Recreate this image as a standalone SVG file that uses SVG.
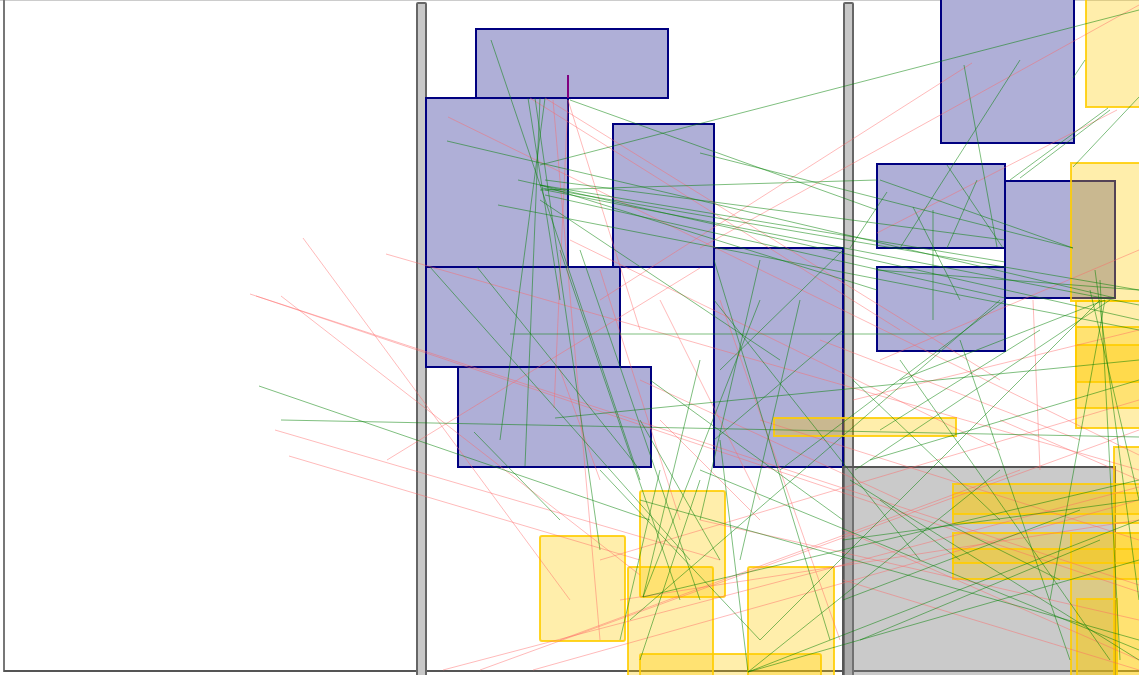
<svg xmlns="http://www.w3.org/2000/svg" width="1139" height="675" viewBox="0 0 1139 675">
<style>
.b{fill:#afafd7;stroke:#000080;stroke-width:2}
.y{fill:#ffcc00;fill-opacity:0.33;stroke:#ffcc00;stroke-width:2;stroke-opacity:0.85}
.bar{fill:#c8c8c8;stroke:#666;stroke-width:2}
.gb{fill:#808080;fill-opacity:0.42;stroke:#555;stroke-width:2}
.g{stroke:#008000;stroke-opacity:0.5;stroke-width:1;fill:none}
.p{stroke:#ff6666;stroke-opacity:0.45;stroke-width:1;fill:none}
</style>
<rect x="0" y="0" width="1139" height="675" fill="#fff"/>
<g id="frame">
<line x1="0" y1="0.5" x2="1139" y2="0.5" stroke="#ccc" stroke-width="1"/>
<line x1="4" y1="0" x2="4" y2="672" stroke="#777" stroke-width="2"/>
<line x1="4" y1="671" x2="1139" y2="671" stroke="#555" stroke-width="2"/>
</g>
<g id="bar1"><rect class="bar" x="417" y="3" width="9" height="680" rx="1"/></g>
<g id="bar2"><rect class="bar" x="844" y="3" width="9" height="680" rx="1"/></g>
<g id="n1"><rect class="b" x="476" y="29" width="192" height="69"/></g>
<g id="n2"><rect class="b" x="426" y="98" width="142" height="169"/></g>
<g id="n3"><rect class="b" x="613" y="124" width="101" height="143"/></g>
<g id="n4"><rect class="b" x="426" y="267" width="194" height="100"/></g>
<g id="n5"><rect class="b" x="458" y="367" width="193" height="100"/></g>
<g id="n6"><rect class="b" x="714" y="248" width="129" height="219"/></g>
<g id="n7"><rect class="b" x="941" y="-5" width="133" height="148"/></g>
<g id="n8"><rect class="b" x="877" y="164" width="128" height="84"/></g>
<g id="n9"><rect class="b" x="877" y="267" width="128" height="84"/></g>
<g id="n10"><rect class="b" x="1005" y="181" width="110" height="117"/></g>
<g id="gray"><rect class="gb" x="843" y="467" width="272" height="215"/></g>
<g id="yellow">
<rect class="y" x="1086" y="-5" width="60" height="112"/>
<rect class="y" x="1071" y="163" width="75" height="138"/>
<rect class="y" x="1076" y="301" width="70" height="127"/>
<rect class="y" x="1076" y="327" width="70" height="55"/>
<rect class="y" x="1076" y="345" width="70" height="63"/>
<rect class="y" x="774" y="418" width="182" height="18"/>
<rect class="y" x="1114" y="447" width="30" height="235"/>
<rect class="y" x="953" y="484" width="190" height="39"/>
<rect class="y" x="953" y="493" width="190" height="21"/>
<rect class="y" x="953" y="533" width="190" height="46"/>
<rect class="y" x="953" y="549" width="190" height="14"/>
<rect class="y" x="1071" y="533" width="70" height="150"/>
<rect class="y" x="1077" y="599" width="40" height="80"/>
<rect class="y" x="640" y="491" width="85" height="106" rx="2"/>
<rect class="y" x="540" y="536" width="85" height="105" rx="2"/>
<rect class="y" x="628" y="567" width="85" height="115" rx="2"/>
<rect class="y" x="748" y="567" width="86" height="115" rx="2"/>
<rect class="y" x="640" y="654" width="181" height="30" rx="2"/>
</g>
<g id="marker"><line x1="568" y1="75" x2="568" y2="98" stroke="#800080" stroke-width="2"/></g>
<g id="connectors">
<line class="p" x1="303" y1="238" x2="570" y2="600"/>
<line class="p" x1="250" y1="294" x2="1139" y2="585"/>
<line class="p" x1="256" y1="296" x2="1139" y2="592"/>
<line class="p" x1="281" y1="296" x2="640" y2="575"/>
<line class="p" x1="386" y1="254" x2="1139" y2="470"/>
<line class="p" x1="275" y1="430" x2="720" y2="560"/>
<line class="p" x1="289" y1="456" x2="640" y2="560"/>
<line class="p" x1="387" y1="460" x2="700" y2="268"/>
<line class="p" x1="448" y1="117" x2="1139" y2="455"/>
<line class="p" x1="530" y1="98" x2="900" y2="330"/>
<line class="p" x1="545" y1="98" x2="1000" y2="380"/>
<line class="p" x1="553" y1="100" x2="600" y2="640"/>
<line class="p" x1="568" y1="100" x2="640" y2="330"/>
<line class="p" x1="443" y1="670" x2="1139" y2="487"/>
<line class="p" x1="533" y1="670" x2="1139" y2="500"/>
<line class="p" x1="480" y1="670" x2="1139" y2="430"/>
<line class="p" x1="700" y1="248" x2="1139" y2="5"/>
<line class="p" x1="600" y1="300" x2="972" y2="63"/>
<line class="p" x1="877" y1="233" x2="1117" y2="110"/>
<line class="p" x1="1033" y1="300" x2="1040" y2="470"/>
<line class="p" x1="843" y1="530" x2="1139" y2="660"/>
<line class="p" x1="843" y1="580" x2="1139" y2="670"/>
<line class="p" x1="600" y1="560" x2="1139" y2="400"/>
<line class="p" x1="620" y1="600" x2="1139" y2="520"/>
<line class="p" x1="700" y1="520" x2="1139" y2="620"/>
<line class="p" x1="760" y1="420" x2="1139" y2="540"/>
<line class="p" x1="720" y1="300" x2="840" y2="640"/>
<line class="p" x1="660" y1="420" x2="760" y2="520"/>
<line class="p" x1="880" y1="360" x2="1139" y2="250"/>
<line class="p" x1="570" y1="240" x2="1000" y2="450"/>
<line class="p" x1="600" y1="480" x2="560" y2="370"/>
<line class="p" x1="640" y1="380" x2="900" y2="500"/>
<line class="p" x1="560" y1="640" x2="1020" y2="470"/>
<line class="p" x1="1000" y1="420" x2="1139" y2="480"/>
<line class="p" x1="600" y1="270" x2="680" y2="520"/>
<line class="p" x1="660" y1="300" x2="760" y2="500"/>
<line class="p" x1="820" y1="340" x2="1080" y2="440"/>
<line class="p" x1="853" y1="400" x2="1139" y2="330"/>
<line class="p" x1="568" y1="100" x2="554" y2="408" stroke="#cc44cc"/>
<line class="g" x1="540" y1="165" x2="1139" y2="10"/>
<line class="g" x1="491" y1="40" x2="640" y2="480"/>
<line class="g" x1="447" y1="141" x2="1115" y2="298"/>
<line class="g" x1="498" y1="205" x2="1139" y2="330"/>
<line class="g" x1="518" y1="180" x2="1139" y2="320"/>
<line class="g" x1="540" y1="98" x2="525" y2="466"/>
<line class="g" x1="545" y1="98" x2="500" y2="440"/>
<line class="g" x1="535" y1="98" x2="600" y2="550"/>
<line class="g" x1="528" y1="98" x2="560" y2="300"/>
<line class="g" x1="540" y1="185" x2="1005" y2="262"/>
<line class="g" x1="540" y1="185" x2="877" y2="290"/>
<line class="g" x1="540" y1="190" x2="877" y2="180"/>
<line class="g" x1="545" y1="190" x2="1139" y2="305"/>
<line class="g" x1="545" y1="195" x2="1005" y2="298"/>
<line class="g" x1="540" y1="200" x2="780" y2="360"/>
<line class="g" x1="542" y1="188" x2="1139" y2="290"/>
<line class="g" x1="545" y1="180" x2="1005" y2="240"/>
<line class="g" x1="570" y1="100" x2="877" y2="210"/>
<line class="g" x1="430" y1="267" x2="690" y2="560"/>
<line class="g" x1="477" y1="267" x2="640" y2="470"/>
<line class="g" x1="510" y1="334" x2="1005" y2="334"/>
<line class="g" x1="259" y1="386" x2="650" y2="520"/>
<line class="g" x1="281" y1="420" x2="1139" y2="437"/>
<line class="g" x1="555" y1="418" x2="1139" y2="360"/>
<line class="g" x1="474" y1="432" x2="560" y2="520"/>
<line class="g" x1="964" y1="65" x2="997" y2="247"/>
<line class="g" x1="1020" y1="60" x2="900" y2="248"/>
<line class="g" x1="1085" y1="60" x2="1073" y2="78"/>
<line class="g" x1="1139" y1="97" x2="1073" y2="167"/>
<line class="g" x1="1108" y1="108" x2="1010" y2="180"/>
<line class="g" x1="1110" y1="110" x2="1020" y2="178"/>
<line class="g" x1="887" y1="192" x2="850" y2="248"/>
<line class="g" x1="913" y1="207" x2="960" y2="300"/>
<line class="g" x1="933" y1="210" x2="933" y2="320"/>
<line class="g" x1="947" y1="165" x2="1003" y2="248"/>
<line class="g" x1="977" y1="180" x2="947" y2="248"/>
<line class="g" x1="880" y1="180" x2="1073" y2="248"/>
<line class="g" x1="700" y1="153" x2="1073" y2="248"/>
<line class="g" x1="1110" y1="300" x2="855" y2="470"/>
<line class="g" x1="1100" y1="300" x2="760" y2="640"/>
<line class="g" x1="1105" y1="300" x2="1050" y2="600"/>
<line class="g" x1="1095" y1="270" x2="1139" y2="600"/>
<line class="g" x1="1100" y1="280" x2="1120" y2="660"/>
<line class="g" x1="1090" y1="290" x2="1139" y2="500"/>
<line class="g" x1="1139" y1="290" x2="877" y2="270"/>
<line class="g" x1="1105" y1="300" x2="900" y2="380"/>
<line class="g" x1="850" y1="480" x2="1139" y2="660"/>
<line class="g" x1="700" y1="470" x2="1139" y2="650"/>
<line class="g" x1="640" y1="500" x2="1139" y2="640"/>
<line class="g" x1="748" y1="672" x2="1139" y2="520"/>
<line class="g" x1="748" y1="672" x2="1139" y2="560"/>
<line class="g" x1="748" y1="672" x2="1000" y2="470"/>
<line class="g" x1="748" y1="672" x2="720" y2="440"/>
<line class="g" x1="643" y1="597" x2="1139" y2="480"/>
<line class="g" x1="643" y1="597" x2="760" y2="300"/>
<line class="g" x1="643" y1="597" x2="700" y2="360"/>
<line class="g" x1="630" y1="620" x2="1000" y2="300"/>
<line class="g" x1="714" y1="260" x2="830" y2="640"/>
<line class="g" x1="714" y1="300" x2="920" y2="560"/>
<line class="g" x1="650" y1="380" x2="843" y2="520"/>
<line class="g" x1="843" y1="540" x2="1139" y2="500"/>
<line class="g" x1="860" y1="640" x2="1100" y2="540"/>
<line class="g" x1="843" y1="600" x2="1080" y2="510"/>
<line class="g" x1="900" y1="360" x2="1110" y2="660"/>
<line class="g" x1="960" y1="340" x2="1070" y2="660"/>
<line class="g" x1="880" y1="430" x2="1040" y2="330"/>
<line class="g" x1="780" y1="470" x2="1005" y2="300"/>
<line class="g" x1="880" y1="500" x2="960" y2="560"/>
<line class="g" x1="940" y1="520" x2="1060" y2="580"/>
<line class="g" x1="560" y1="250" x2="680" y2="600"/>
<line class="g" x1="580" y1="250" x2="700" y2="600"/>
<line class="g" x1="700" y1="480" x2="640" y2="660"/>
<line class="g" x1="720" y1="560" x2="640" y2="420"/>
<line class="g" x1="720" y1="370" x2="843" y2="250"/>
<line class="g" x1="714" y1="440" x2="843" y2="330"/>
<line class="g" x1="760" y1="260" x2="700" y2="520"/>
<line class="g" x1="800" y1="300" x2="740" y2="560"/>
<line class="g" x1="853" y1="380" x2="1000" y2="520"/>
<line class="g" x1="870" y1="460" x2="1139" y2="380"/>
<line class="g" x1="600" y1="470" x2="760" y2="640"/>
<line class="g" x1="660" y1="470" x2="620" y2="640"/>
</g>
</svg>
